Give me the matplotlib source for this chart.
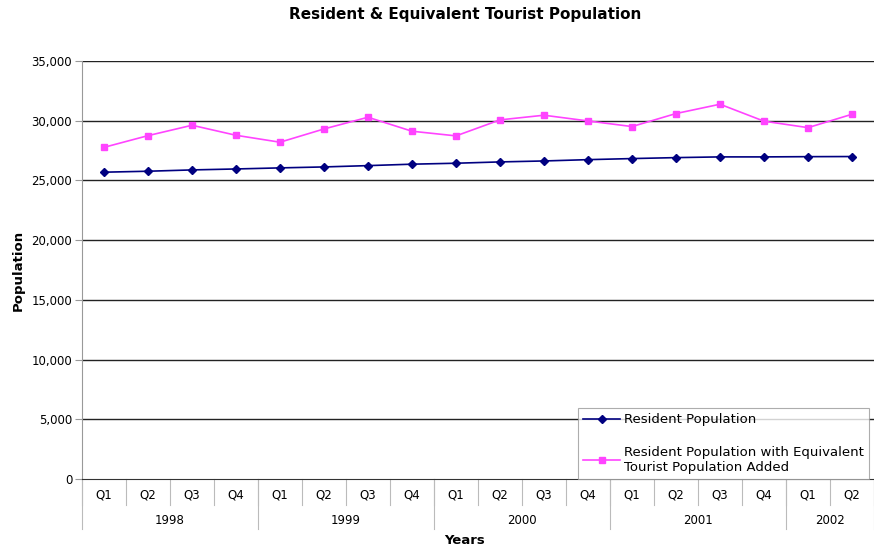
import matplotlib
matplotlib.use("Agg")
import matplotlib.pyplot as plt
import matplotlib.transforms as mtransforms

plt.rcParams['font.family'] = ['DejaVu Sans']

quarters = ["Q1", "Q2", "Q3", "Q4"] * 4 + ["Q1", "Q2"]
years = ["1998", "1999", "2000", "2001", "2002"]
year_counts = [4, 4, 4, 4, 2]
resident = [25690, 25770, 25880, 25960, 26050, 26130, 26240, 26360, 26440,
            26550, 26630, 26740, 26830, 26910, 26970, 26970, 26990, 27000]
with_tourist = [27770, 28750, 29620, 28780, 28200, 29310, 30290, 29120, 28730,
                30070, 30460, 29980, 29510, 30600, 31380, 29960, 29420, 30540]
yticks = [0, 5000, 10000, 15000, 20000, 25000, 30000, 35000]

W, H = 874, 550
fig = plt.figure(figsize=(W / 100, H / 100), dpi=100)
L, R, T, B = 82, 874, 61, 479
ax = fig.add_axes([L / W, 1 - B / H, (R - L) / W, (B - T) / H])

n = len(resident)
x = list(range(n))
ax.plot(x, resident, color="#000080", lw=1.2, marker="D", ms=4, mfc="#000080", mec="#000080",
        label="Resident Population", zorder=3)
ax.plot(x, with_tourist, color="#FF44FF", lw=1.2, marker="s", ms=4.8, mfc="#FF44FF", mec="#FF44FF",
        label="Resident Population with Equivalent\nTourist Population Added", zorder=3)

ax.set_xlim(-0.5, n - 0.5)
ax.set_ylim(0, 35000)
ax.set_yticks(yticks)
ax.set_yticklabels([f"{v:,}" for v in yticks], fontsize=8.5)
for v in yticks[1:]:
    ax.axhline(v, color="#222222", lw=1.0, zorder=1)

for s in ["top", "right"]:
    ax.spines[s].set_visible(False)
ax.spines["left"].set_color("#999999")
ax.spines["bottom"].set_color("#333333")
ax.tick_params(axis="y", direction="out", length=5, color="#999999", pad=2)
ax.set_xticks([])

ph = B - T
trans = mtransforms.blended_transform_factory(ax.transData, ax.transAxes)
sep_col = "#BBBBBB"
q_drop = 26 / ph
y_drop = 50 / ph
for i in range(n + 1):
    ax.plot([i - 0.5, i - 0.5], [0, -q_drop], transform=trans, color=sep_col, lw=0.8, clip_on=False)
for i, q in enumerate(quarters):
    ax.text(i, -16 / ph, q, transform=trans, ha="center", va="center", fontsize=8.5)
pos = -0.5
bounds = [pos]
for yr, c in zip(years, year_counts):
    ax.text(pos + c / 2, -42 / ph, yr, transform=trans, ha="center", va="center", fontsize=8.5)
    pos += c
    bounds.append(pos)
for b in bounds:
    ax.plot([b, b], [0, -y_drop], transform=trans, color=sep_col, lw=0.8, clip_on=False)

fig.text(465 / W, 1 - 540 / H, "Years", ha="center", va="center", fontsize=9.5, fontweight="bold")
fig.text(18 / W, 1 - 270 / H, "Population", ha="center", va="center", fontsize=9.5,
         fontweight="bold", rotation=90)
fig.text(465 / W, 1 - 15 / H, "Resident & Equivalent Tourist Population", ha="center",
         va="center", fontsize=11, fontweight="bold")

leg = ax.legend(loc="upper left", bbox_to_anchor=((578 - L) / (R - L), (B - 408) / ph),
                frameon=True, fancybox=False, fontsize=9.5, labelspacing=1.5,
                handlelength=2.8, handletextpad=0.3, borderpad=0.4, borderaxespad=0)
leg.get_frame().set_edgecolor("#999999")
leg.get_frame().set_linewidth(0.8)
leg.set_zorder(5)

fig.savefig("out.png", dpi=100)
